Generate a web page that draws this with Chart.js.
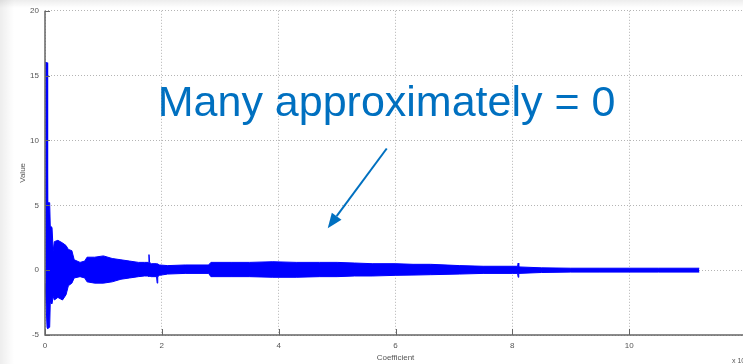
<!DOCTYPE html>
<html>
<head>
<meta charset="utf-8">
<script src="https://cdn.jsdelivr.net/npm/chart.js@4/dist/chart.umd.min.js"></script>
<style>
  html, body { margin: 0; padding: 0; background: #ffffff; overflow: hidden; width: 743px; height: 364px; }
  #wrap { position: relative; width: 752px; height: 364px; }
  canvas { display: block; }
</style>
</head>
<body>
<div id="wrap"><canvas id="c" width="752" height="364"></canvas></div>
<script>
// Coefficient index (x 10^4) where the envelope of the signal was read
const coefX = [0.003, 0.035, 0.045, 0.08, 0.09, 0.12, 0.14, 0.16, 0.22, 0.30, 0.36, 0.40, 0.46, 0.50, 0.60, 0.68, 0.72, 0.85, 1.00, 1.15, 1.30, 1.45, 1.60, 1.70, 1.77, 1.78, 1.79, 1.82, 1.91, 1.92, 1.93, 1.96, 2.10, 2.40, 2.80, 2.84, 3.20, 3.50, 3.90, 4.30, 4.70, 5.00, 5.30, 5.60, 6.00, 6.30, 6.60, 7.10, 7.50, 8.00, 8.09, 8.10, 8.11, 8.50, 9.00, 9.50, 10.00, 10.50, 11.20];
// Upper envelope of the coefficient values
const upperEnv = [16.0, 16.0, 5.2, 5.2, 3.4, 3.3, 1.5, 2.2, 2.3, 2.1, 1.9, 1.6, 1.5, 0.8, 0.6, 0.7, 1.0, 1.0, 1.1, 0.9, 0.8, 0.7, 0.6, 0.6, 0.6, 1.2, 0.6, 0.5, 0.5, 0.5, 0.5, 0.4, 0.35, 0.4, 0.4, 0.6, 0.6, 0.6, 0.65, 0.6, 0.6, 0.6, 0.55, 0.5, 0.5, 0.45, 0.45, 0.35, 0.3, 0.3, 0.3, 0.55, 0.25, 0.18, 0.15, 0.15, 0.15, 0.15, 0.15];
// Lower envelope of the coefficient values
const lowerEnv = [-1.0, -4.4, -4.5, -4.4, -2.5, -2.6, -2.0, -2.3, -2.1, -2.3, -1.9, -1.2, -1.0, -0.6, -0.5, -0.6, -0.9, -1.0, -1.0, -0.9, -0.7, -0.6, -0.5, -0.45, -0.45, -0.5, -0.45, -0.5, -0.5, -1.0, -0.5, -0.4, -0.3, -0.25, -0.25, -0.5, -0.5, -0.5, -0.55, -0.55, -0.5, -0.5, -0.45, -0.45, -0.4, -0.38, -0.35, -0.3, -0.25, -0.25, -0.25, -0.55, -0.25, -0.18, -0.15, -0.15, -0.15, -0.15, -0.15];

const xTicks = [0, 2, 4, 6, 8, 10, 12];
const yTicks = [-5, 0, 5, 10, 15, 20];

const noteText = 'Many approximately = 0';
const notePos = [1.93, 11.92];        // text left / baseline (data units)
const arrowFrom = [5.85, 9.38];
const arrowTo = [4.84, 3.23];

const BLUE = '#0000ff';
const NOTE = '#0070c0';

const bgPlugin = {
  id: 'bg',
  beforeDraw(chart) {
    const ctx = chart.ctx;
    ctx.save();
    ctx.fillStyle = '#ffffff';
    ctx.fillRect(0, 0, chart.width, chart.height);
    let g = ctx.createLinearGradient(0, 0, 14, 0);
    g.addColorStop(0, 'rgba(0,0,0,0.07)');
    g.addColorStop(1, 'rgba(0,0,0,0)');
    ctx.fillStyle = g;
    ctx.fillRect(0, 0, 14, chart.height);
    g = ctx.createLinearGradient(0, 0, 0, 8);
    g.addColorStop(0, 'rgba(0,0,0,0.07)');
    g.addColorStop(1, 'rgba(0,0,0,0)');
    ctx.fillStyle = g;
    ctx.fillRect(0, 0, chart.width, 8);
    ctx.restore();
  }
};

const decoPlugin = {
  id: 'deco',
  afterDraw(chart) {
    const ctx = chart.ctx;
    const xs = chart.scales.x, ys = chart.scales.y;
    const a = chart.chartArea;
    ctx.save();
    // solid axis lines
    ctx.strokeStyle = '#666666';
    ctx.lineWidth = 1.5;
    ctx.beginPath();
    ctx.moveTo(a.left, a.top); ctx.lineTo(a.left, a.bottom); ctx.lineTo(chart.width, a.bottom);
    ctx.stroke();
    // inward tick marks
    ctx.lineWidth = 1;
    ctx.beginPath();
    xTicks.forEach(v => {
      const px = Math.round(xs.getPixelForValue(v)) + 0.5;
      ctx.moveTo(px, a.bottom); ctx.lineTo(px, a.bottom - 6);
    });
    yTicks.forEach(v => {
      const py = Math.round(ys.getPixelForValue(v)) + 0.5;
      ctx.moveTo(a.left, py); ctx.lineTo(a.left + 5, py);
    });
    ctx.stroke();
    // multiplier label
    ctx.fillStyle = '#555555';
    ctx.font = '7px "Liberation Sans", Arial, sans-serif';
    ctx.textBaseline = 'alphabetic';
    ctx.fillText('x 10', 732, 363);
    ctx.font = '5px "Liberation Sans", Arial, sans-serif';
    ctx.fillText('4', 746, 359);
    // annotation text
    ctx.fillStyle = NOTE;
    ctx.font = '43px "Liberation Sans", Arial, sans-serif';
    ctx.textAlign = 'left';
    ctx.fillText(noteText, xs.getPixelForValue(notePos[0]), ys.getPixelForValue(notePos[1]));
    // arrow
    const x1 = xs.getPixelForValue(arrowFrom[0]), y1 = ys.getPixelForValue(arrowFrom[1]);
    const x2 = xs.getPixelForValue(arrowTo[0]), y2 = ys.getPixelForValue(arrowTo[1]);
    const ang = Math.atan2(y2 - y1, x2 - x1);
    const hl = 15, hw = 6;
    const bx = x2 - hl * Math.cos(ang), by = y2 - hl * Math.sin(ang);
    ctx.strokeStyle = NOTE;
    ctx.lineWidth = 2;
    ctx.beginPath();
    ctx.moveTo(x1, y1); ctx.lineTo(bx, by);
    ctx.stroke();
    ctx.fillStyle = NOTE;
    ctx.beginPath();
    ctx.moveTo(x2, y2);
    ctx.lineTo(bx + hw * Math.sin(ang), by - hw * Math.cos(ang));
    ctx.lineTo(bx - hw * Math.sin(ang), by + hw * Math.cos(ang));
    ctx.closePath();
    ctx.fill();
    ctx.restore();
  }
};

const tickFont = { family: '"Liberation Sans", Arial, sans-serif', size: 8 };

new Chart(document.getElementById('c'), {
  type: 'line',
  data: {
    datasets: [
      {
        label: 'upper',
        data: coefX.map((x, i) => ({ x: x, y: upperEnv[i] })),
        borderColor: BLUE,
        backgroundColor: BLUE,
        borderWidth: 1,
        pointRadius: 0,
        tension: 0,
        fill: '+1'
      },
      {
        label: 'lower',
        data: coefX.map((x, i) => ({ x: x, y: lowerEnv[i] })),
        borderColor: BLUE,
        backgroundColor: BLUE,
        borderWidth: 1,
        pointRadius: 0,
        tension: 0,
        fill: false
      }
    ]
  },
  options: {
    responsive: false,
    animation: false,
    devicePixelRatio: 1,
    layout: { padding: { top: 10, right: 5, left: 0, bottom: 0 } },
    plugins: { legend: { display: false }, tooltip: { enabled: false } },
    scales: {
      x: {
        type: 'linear',
        min: 0, max: 12,
        afterBuildTicks(s) { s.ticks = xTicks.map(v => ({ value: v })); },
        afterFit(s) { s.height = 29; },
        ticks: {
          font: tickFont, color: '#555555', padding: 6, maxRotation: 0,
          callback: v => (v === 12 ? '' : String(v))
        },
        grid: { color: '#b4b4b4', lineWidth: 1, drawTicks: false, tickLength: 0 },
        border: { display: false, dash: [1, 2] },
        title: { display: true, text: 'Coefficient', font: tickFont, color: '#555555', padding: { top: 0, bottom: 1 } }
      },
      y: {
        type: 'linear',
        min: -5, max: 20,
        afterBuildTicks(s) { s.ticks = yTicks.map(v => ({ value: v })); },
        afterFit(s) { s.width = 45; },
        ticks: { font: tickFont, color: '#555555', padding: 6 },
        grid: { color: '#b4b4b4', lineWidth: 1, drawTicks: false, tickLength: 0 },
        border: { display: false, dash: [1, 2] },
        title: { display: true, text: 'Value', font: tickFont, color: '#555555', padding: { top: 18, bottom: 0 } }
      }
    }
  },
  plugins: [bgPlugin, decoPlugin]
});
</script>
</body>
</html>
